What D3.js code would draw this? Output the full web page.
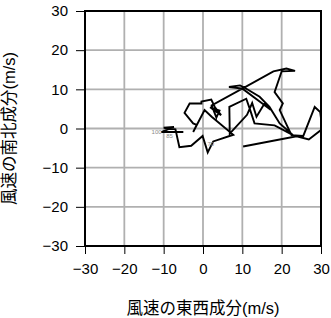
<!DOCTYPE html>
<html>
<head>
<meta charset="utf-8">
<script src="https://cdn.jsdelivr.net/npm/d3@7"></script>
<style>
  body { margin: 0; background: #fff; }
  text { font-family: "Liberation Sans", "Noto Sans CJK JP", sans-serif; }
</style>
</head>
<body>
<div id="chart"></div>
<script>
// hodograph: east-west (u) and north-south (v) wind components, m/s
const uWind = [-5.0, -10.6, -7.4, -10.0, -7.0, -6.0, -3.0, -0.1, 1.2, 2.6, 7.7,
  2.2, 0.4, -2.5, -1.6, -2.5, -4.7, -3.4, -0.4, -0.4, 2.1, 3.0, 4.6, 1.8, 4.2, 3.4, 2.2,
  10.0, 6.6, 9.4, 10.6, 14.4, 16.9, 19.5, 22.9, 18.2, 13.1, 12.0, 11.0, 6.7, 6.8,
  11.2, 12.5, 13.6, 15.6, 17.2, 10.0, 17.9, 21.2, 23.4, 20.0, 18.2, 20.3, 19.5,
  22.5, 25.5, 28.4, 29.8, 30.2, 30.0, 26.9, 23.8, 10.2];
const vWind = [-0.9, -0.9, 0.4, 0.2, -0.2, -4.8, -4.4, -1.9, -6.1, -3.3, -1.6,
  3.0, 4.7, -0.9, 0.9, 1.3, 4.0, 6.4, 6.4, 6.9, 7.4, 5.5, 3.4, 5.4, 4.6, 2.8, 5.9,
  10.2, 10.6, 11.0, 10.4, 8.1, 5.5, 1.3, -1.7, 0.8, 1.3, 4.7, 7.6, 5.5, -1.3,
  3.5, 6.5, 3.0, 6.3, 4.8, 10.2, 14.6, 15.3, 14.7, 14.6, 9.3, 6.4, 4.7,
  -1.7, -1.9, 5.5, 4.2, 1.0, -0.4, -2.8, -2.0, -4.6];

// pressure level labels (hPa / 10)
const levelNames = ["100", "85", "70"];
const levelU = [-11.8, -8.5, 2.0];
const levelV = [-0.9, -2.0, -4.0];

const ticks = [-30, -20, -10, 0, 10, 20, 30];

const width = 331, height = 318;
const plotL = 85, plotR = 321, plotT = 11, plotB = 246;

const svg = d3.select("#chart").append("svg")
  .attr("width", width)
  .attr("height", height);

const x = d3.scaleLinear().domain([-30, 30]).range([plotL, plotR]);
const y = d3.scaleLinear().domain([-30, 30]).range([plotB, plotT]);

// grid
svg.append("g").selectAll("line")
  .data(ticks.slice(1, -1))
  .enter().append("line")
  .attr("x1", d => x(d)).attr("x2", d => x(d))
  .attr("y1", plotT).attr("y2", plotB)
  .attr("stroke", "#b0b0b0").attr("stroke-width", 1.8);

svg.append("g").selectAll("line")
  .data(ticks.slice(1, -1))
  .enter().append("line")
  .attr("y1", d => y(d)).attr("y2", d => y(d))
  .attr("x1", plotL).attr("x2", plotR)
  .attr("stroke", "#b0b0b0").attr("stroke-width", 1.8);

// axes
const xAxis = d3.axisBottom(x).tickValues(ticks).tickSize(8).tickPadding(9).tickSizeOuter(0);
const yAxis = d3.axisLeft(y).tickValues(ticks).tickSize(9).tickPadding(8).tickSizeOuter(0);

svg.append("g")
  .attr("transform", `translate(0,${plotB})`)
  .call(xAxis)
  .call(g => g.select(".domain").remove())
  .call(g => g.selectAll("text").attr("font-size", 15).attr("fill", "#000")
    .attr("font-family", "Liberation Sans, sans-serif"));

svg.append("g")
  .attr("transform", `translate(${plotL},0)`)
  .call(yAxis)
  .call(g => g.select(".domain").remove())
  .call(g => g.selectAll("text").attr("font-size", 15).attr("fill", "#000")
    .attr("font-family", "Liberation Sans, sans-serif"));

// hodograph line
svg.append("clipPath").attr("id", "plotclip")
  .append("rect").attr("x", plotL).attr("y", plotT)
  .attr("width", plotR - plotL).attr("height", plotB - plotT);

const line = d3.line()
  .x(d => x(d[0]))
  .y(d => y(d[1]));

svg.append("path")
  .datum(d3.zip(uWind, vWind))
  .attr("clip-path", "url(#plotclip)")
  .attr("d", line)
  .attr("fill", "none")
  .attr("stroke", "#000")
  .attr("stroke-width", 1.9)
  .attr("stroke-linejoin", "miter");

svg.append("g").selectAll("text")
  .data(levelNames)
  .enter().append("text")
  .attr("x", (d, i) => x(levelU[i]))
  .attr("y", (d, i) => y(levelV[i]))
  .attr("text-anchor", "middle")
  .attr("dy", "0.35em")
  .attr("font-size", 6)
  .attr("fill", "#888")
  .text(d => d);

// frame
svg.append("rect")
  .attr("x", plotL).attr("y", plotT)
  .attr("width", plotR - plotL).attr("height", plotB - plotT)
  .attr("fill", "none")
  .attr("stroke", "#000")
  .attr("stroke-width", 2);

// axis titles
svg.append("text")
  .attr("x", (plotL + plotR) / 2)
  .attr("y", 314)
  .attr("text-anchor", "middle")
  .attr("font-size", 16.5)
  .attr("font-family", "Noto Sans CJK JP, sans-serif")
  .text("風速の東西成分(m/s)");

svg.append("text")
  .attr("transform", `translate(15,${(plotT + plotB) / 2}) rotate(-90)`)
  .attr("text-anchor", "middle")
  .attr("font-size", 16.5)
  .attr("font-family", "Noto Sans CJK JP, sans-serif")
  .text("風速の南北成分(m/s)");
</script>
</body>
</html>
